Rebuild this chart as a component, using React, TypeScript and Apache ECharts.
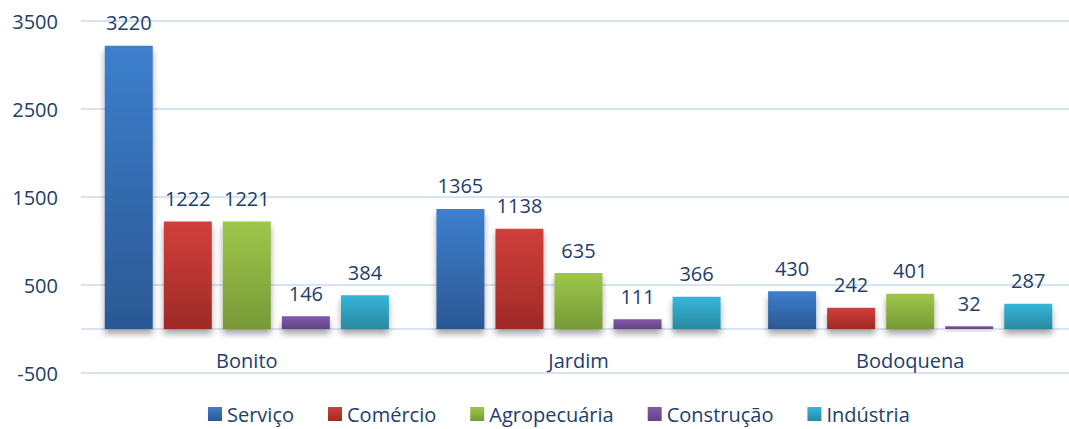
import React, { useEffect, useRef } from "react";
import * as echarts from "echarts";

const categories = ["Bonito", "Jardim", "Bodoquena"];
const seriesNames = ["Serviço", "Comércio", "Agropecuária", "Construção", "Indústria"];
const servico = [3220, 1365, 430];
const comercio = [1222, 1138, 242];
const agropecuaria = [1221, 635, 401];
const construcao = [146, 111, 32];
const industria = [384, 366, 287];
const yTicks = { min: -500, max: 3500, interval: 1000 };

const gradients: [string, string][] = [
  ["#3D7FCE", "#2B5893"],
  ["#D23F3B", "#9E2A27"],
  ["#9EC64B", "#789937"],
  ["#8259AB", "#624484"],
  ["#36B6D8", "#2988A3"],
];

const TEXT = "#213E6C";
const GRID = "#D9E3F3";
const FONT = "'Open Sans', sans-serif";

export default function App() {
  const ref = useRef<HTMLDivElement>(null);
  useEffect(() => {
    if (!ref.current) return;
    const chart = echarts.init(ref.current, undefined, { renderer: "svg" });
    const data = [servico, comercio, agropecuaria, construcao, industria];
    chart.setOption({
      animation: false,
      textStyle: { fontFamily: FONT },
      grid: { left: 81, top: 21, width: 995, bottom: 56, containLabel: false },
      legend: {
        left: 208,
        top: 404,
        padding: 0,
        icon: "rect",
        itemWidth: 14,
        itemHeight: 14,
        itemGap: 34,
        textStyle: { fontSize: 20, color: TEXT, fontFamily: FONT },
        data: seriesNames,
      },
      xAxis: {
        type: "category",
        data: categories,
        axisLine: { show: false, onZero: false },
        axisTick: { show: false },
        axisLabel: { fontSize: 20, color: TEXT, margin: -23, fontFamily: FONT, verticalAlign: "top" },
      },
      yAxis: {
        type: "value",
        min: yTicks.min,
        max: yTicks.max,
        interval: yTicks.interval,
        axisLine: { show: false },
        axisTick: { show: false },
        splitLine: { lineStyle: { color: GRID, width: 2 } },
        axisLabel: {
          fontSize: 20,
          color: TEXT,
          margin: 23,
          fontFamily: FONT,
          formatter: (v: number) => String(v),
        },
      },
      series: data.map((d, i) => ({
        name: seriesNames[i],
        type: "bar",
        data: d,
        barWidth: 48,
        barGap: "23%",
        itemStyle: {
          color: new echarts.graphic.LinearGradient(0, 0, 0, 1, [
            { offset: 0, color: gradients[i][0] },
            { offset: 1, color: gradients[i][1] },
          ]),
          shadowColor: "rgba(0,0,0,0.35)",
          shadowBlur: 6,
          shadowOffsetY: 5,
        },
        label: {
          show: true,
          position: "top",
          distance: 13,
          fontSize: 20,
          color: TEXT,
          fontFamily: FONT,
        },
        markLine:
          i === 0
            ? {
                silent: true,
                symbol: "none",
                label: { show: false },
                z: 0,
                lineStyle: { color: GRID, width: 2, type: "solid" },
                data: [{ yAxis: 0 }],
              }
            : undefined,
      })),
    });
    return () => chart.dispose();
  }, []);
  return (
    <div style={{ position: "fixed", left: 0, top: 0, width: 1069, height: 429, overflow: "hidden", background: "#fff" }}>
      <div ref={ref} style={{ width: 1090, height: 429 }} />
    </div>
  );
}
